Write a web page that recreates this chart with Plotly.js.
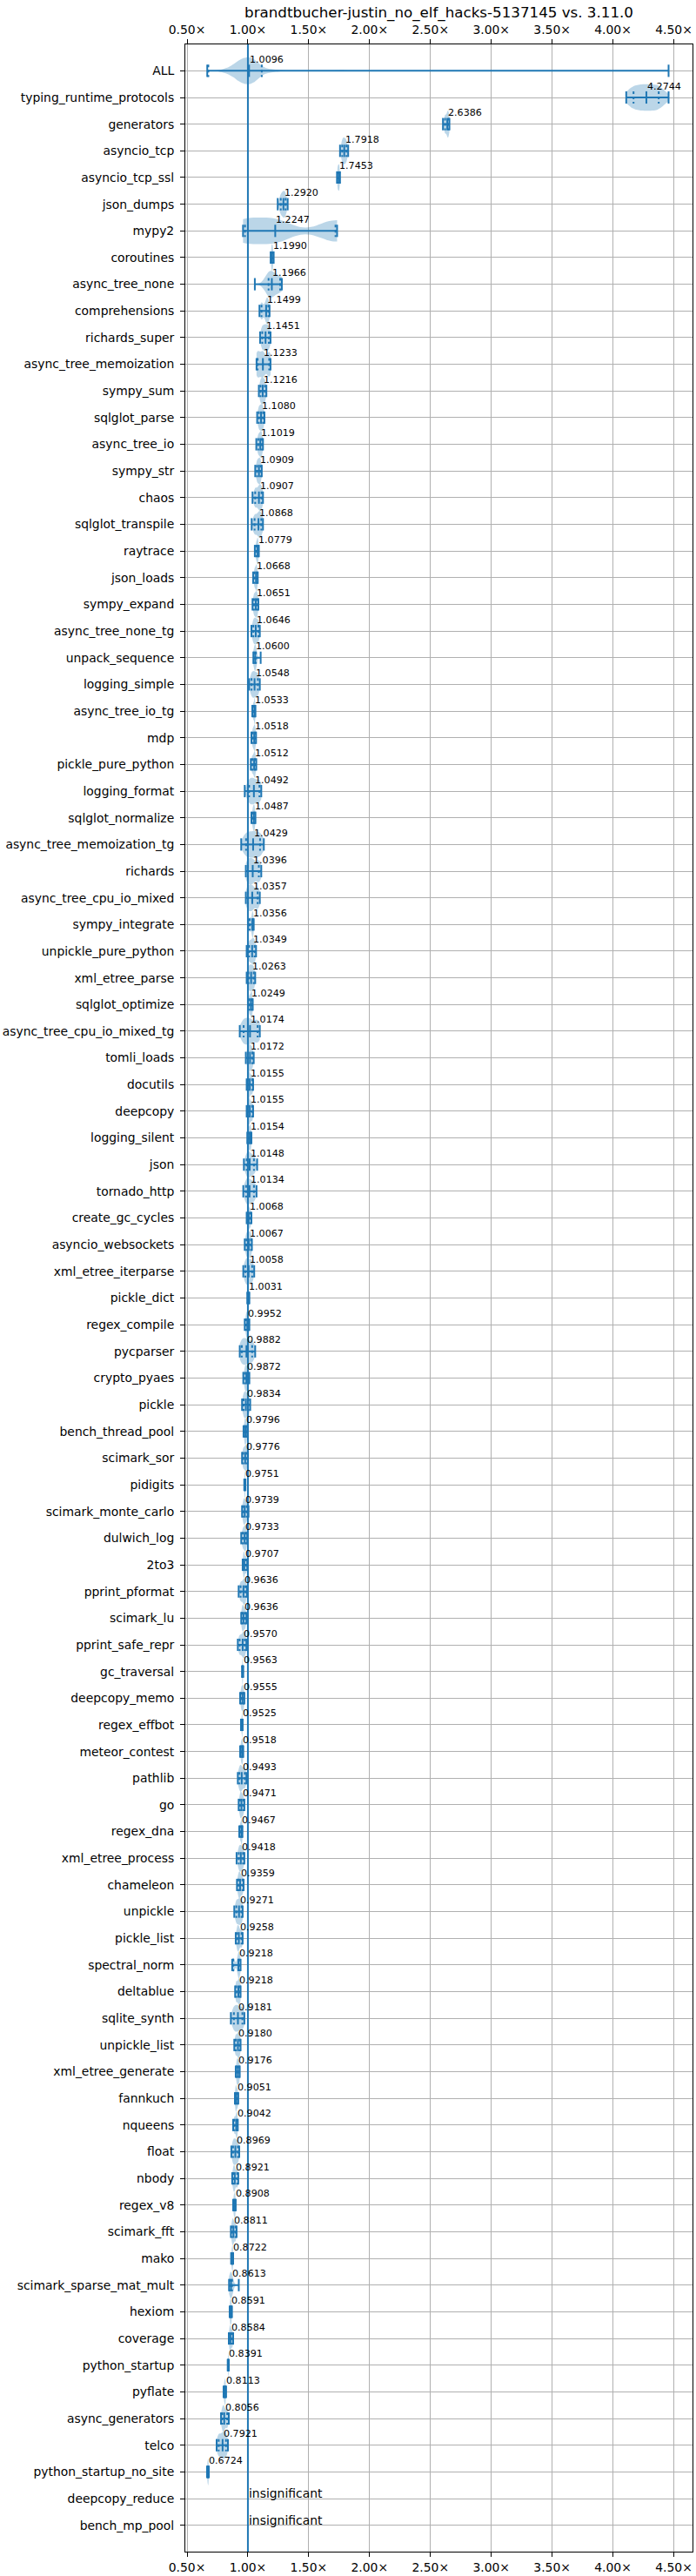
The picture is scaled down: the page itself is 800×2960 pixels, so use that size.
<!DOCTYPE html>
<html>
<head>
<meta charset="utf-8">
<script src="https://cdn.plot.ly/plotly-3.0.1.min.js"></script>
<style>html,body{margin:0;padding:0;background:#fff;}#chart{width:800px;height:2960px;}</style>
</head>
<body>
<div id="chart"></div>
<script>
const chartTitle = "brandtbucher-justin_no_elf_hacks-5137145 vs. 3.11.0";

const names = ["ALL","typing_runtime_protocols","generators","asyncio_tcp","asyncio_tcp_ssl","json_dumps","mypy2","coroutines","async_tree_none","comprehensions","richards_super","async_tree_memoization","sympy_sum","sqlglot_parse","async_tree_io","sympy_str","chaos","sqlglot_transpile","raytrace","json_loads","sympy_expand","async_tree_none_tg","unpack_sequence","logging_simple","async_tree_io_tg","mdp","pickle_pure_python","logging_format","sqlglot_normalize","async_tree_memoization_tg","richards","async_tree_cpu_io_mixed","sympy_integrate","unpickle_pure_python","xml_etree_parse","sqlglot_optimize","async_tree_cpu_io_mixed_tg","tomli_loads","docutils","deepcopy","logging_silent","json","tornado_http","create_gc_cycles","asyncio_websockets","xml_etree_iterparse","pickle_dict","regex_compile","pycparser","crypto_pyaes","pickle","bench_thread_pool","scimark_sor","pidigits","scimark_monte_carlo","dulwich_log","2to3","pprint_pformat","scimark_lu","pprint_safe_repr","gc_traversal","deepcopy_memo","regex_effbot","meteor_contest","pathlib","go","regex_dna","xml_etree_process","chameleon","unpickle","pickle_list","spectral_norm","deltablue","sqlite_synth","unpickle_list","xml_etree_generate","fannkuch","nqueens","float","nbody","regex_v8","scimark_fft","mako","scimark_sparse_mat_mult","hexiom","coverage","python_startup","pyflate","async_generators","telco","python_startup_no_site","deepcopy_reduce","bench_mp_pool"];

const medians = [1.0096,4.2744,2.6386,1.7918,1.7453,1.2920,1.2247,1.1990,1.1966,1.1499,1.1451,1.1233,1.1216,1.1080,1.1019,1.0909,1.0907,1.0868,1.0779,1.0668,1.0651,1.0646,1.0600,1.0548,1.0533,1.0518,1.0512,1.0492,1.0487,1.0429,1.0396,1.0357,1.0356,1.0349,1.0263,1.0249,1.0174,1.0172,1.0155,1.0155,1.0154,1.0148,1.0134,1.0068,1.0067,1.0058,1.0031,0.9952,0.9882,0.9872,0.9834,0.9796,0.9776,0.9751,0.9739,0.9733,0.9707,0.9636,0.9636,0.9570,0.9563,0.9555,0.9525,0.9518,0.9493,0.9471,0.9467,0.9418,0.9359,0.9271,0.9258,0.9218,0.9218,0.9181,0.9180,0.9176,0.9051,0.9042,0.8969,0.8921,0.8908,0.8811,0.8722,0.8613,0.8591,0.8584,0.8391,0.8113,0.8056,0.7921,0.6724,1.0000,1.0000];

const mins = [0.666,4.109,2.603,1.757,1.732,1.245,0.960,1.187,1.057,1.095,1.100,1.071,1.090,1.076,1.069,1.060,1.038,1.031,1.057,1.043,1.038,1.029,1.045,1.010,1.036,1.029,1.024,0.974,1.029,0.945,0.983,0.983,1.002,0.990,0.990,1.002,0.933,0.983,0.990,0.990,0.995,0.967,0.962,0.990,0.974,0.962,0.995,0.974,0.933,0.962,0.952,0.964,0.952,0.970,0.952,0.945,0.957,0.924,0.945,0.917,0.952,0.936,0.943,0.936,0.917,0.924,0.929,0.907,0.910,0.888,0.900,0.871,0.895,0.860,0.888,0.900,0.893,0.879,0.864,0.871,0.879,0.860,0.862,0.845,0.850,0.843,0.834,0.800,0.779,0.743,0.664,0.995,0.995];

const q1s = [0.675,4.169,2.620,1.775,1.738,1.270,0.976,1.193,1.170,1.112,1.118,1.080,1.104,1.090,1.085,1.075,1.060,1.055,1.068,1.055,1.050,1.045,1.050,1.030,1.044,1.040,1.036,1.010,1.040,0.985,1.000,1.000,1.015,1.010,1.005,1.012,0.965,1.000,1.002,1.002,1.005,0.990,0.985,0.998,0.988,0.980,0.999,0.985,0.950,0.975,0.965,0.972,0.962,0.972,0.962,0.958,0.963,0.940,0.952,0.932,0.954,0.945,0.948,0.944,0.930,0.935,0.938,0.925,0.922,0.905,0.912,0.880,0.905,0.885,0.900,0.908,0.898,0.890,0.878,0.880,0.884,0.870,0.867,0.850,0.854,0.850,0.836,0.805,0.790,0.760,0.668,0.998,0.998];

const q3s = [1.114,4.376,2.650,1.810,1.752,1.310,1.720,1.205,1.265,1.168,1.172,1.175,1.140,1.125,1.115,1.105,1.112,1.110,1.084,1.075,1.078,1.086,1.066,1.082,1.058,1.060,1.060,1.095,1.056,1.100,1.090,1.080,1.042,1.055,1.048,1.034,1.080,1.036,1.035,1.035,1.024,1.050,1.050,1.020,1.025,1.035,1.008,1.005,1.035,1.002,1.005,0.988,0.990,0.978,0.990,0.985,0.985,0.980,0.978,0.975,0.959,0.965,0.954,0.958,0.975,0.962,0.952,0.960,0.955,0.948,0.948,0.930,0.935,0.955,0.932,0.928,0.915,0.912,0.918,0.912,0.896,0.898,0.876,0.870,0.865,0.872,0.841,0.816,0.830,0.820,0.676,1.002,1.002];

const maxs = [4.457,4.457,2.656,1.824,1.757,1.327,1.733,1.212,1.279,1.178,1.186,1.186,1.152,1.136,1.124,1.114,1.124,1.124,1.090,1.081,1.086,1.098,1.105,1.098,1.062,1.067,1.069,1.110,1.062,1.131,1.110,1.098,1.048,1.067,1.060,1.040,1.098,1.048,1.043,1.043,1.029,1.076,1.071,1.029,1.033,1.052,1.012,1.012,1.060,1.012,1.019,0.995,1.000,0.980,1.005,0.995,0.995,0.993,0.988,0.988,0.962,0.971,0.957,0.962,0.988,0.971,0.955,0.971,0.965,0.957,0.957,0.940,0.940,0.971,0.940,0.933,0.921,0.917,0.929,0.921,0.900,0.907,0.879,0.925,0.869,0.879,0.843,0.821,0.843,0.836,0.679,1.005,1.005];

const insignificant = ["deepcopy_reduce","bench_mp_pool"];
const insignificantText = "insignificant";

const xTickVals = [0.5,1.0,1.5,2.0,2.5,3.0,3.5,4.0,4.5];
const xTickText = ["0.50×","1.00×","1.50×","2.00×","2.50×","3.00×","3.50×","4.00×","4.50×"];
const BASELINE = 1.0;

const C0 = "#1f77b4";
const FILL = "rgba(31,119,180,0.3)";
const FONT = "DejaVu Sans, Liberation Sans, sans-serif";
const CAP = 0.23;
const BW_FRACTION = 1 / 6;   // kernel bandwidth as a fraction of each violin's span

const isSig = names.map(n => insignificant.indexOf(n) < 0);
const idx = names.map((_, i) => i);

const traces = [];
// violin bodies: density from the read quartiles / medians, spanning min..max
names.forEach((n, i) => {
  const v = {
    type: "violin", orientation: "h", y0: i, name: n,
    width: 1.0, scalemode: "width", spanmode: "manual", span: [mins[i], maxs[i]],
    fillcolor: FILL, line: {width: 0, color: FILL},
    points: false, box: {visible: false}, meanline: {visible: false},
    hoverinfo: "skip", showlegend: false
  };
  if (i === 0) {
    v.x = medians.filter((m, j) => j > 0 && isSig[j]);
  } else {
    v.x = [q1s[i], medians[i], q3s[i]];
    v.bandwidth = (maxs[i] - mins[i]) * BW_FRACTION;
  }
  traces.push(v);
});

// bars, caps, medians, quantiles
const barX = [], barY = [], capX = [], capY = [], qX = [], qY = [];
names.forEach((n, i) => {
  if (!isSig[i]) return;
  barX.push(mins[i], maxs[i], null); barY.push(i, i, null);
  [mins[i], maxs[i], medians[i]].forEach(v => { capX.push(v, v, null); capY.push(i - CAP, i + CAP, null); });
  [q1s[i], q3s[i]].forEach(v => { qX.push(v, v, null); qY.push(i - CAP, i + CAP, null); });
});
traces.push({type: "scatter", mode: "lines", x: barX, y: barY, line: {color: C0, width: 2}, hoverinfo: "skip", showlegend: false});
traces.push({type: "scatter", mode: "lines", x: capX, y: capY, line: {color: C0, width: 2}, hoverinfo: "skip", showlegend: false});
traces.push({type: "scatter", mode: "lines", x: qX, y: qY, line: {color: C0, width: 2, dash: "dot"}, hoverinfo: "skip", showlegend: false});
// invisible point so the bottom tick axis is drawn
traces.push({type: "scatter", mode: "markers", x: [BASELINE], y: [0], xaxis: "x2", marker: {opacity: 0}, hoverinfo: "skip", showlegend: false});

const annotations = names.map((n, i) => isSig[i] ? {
  x: medians[i], y: i, xref: "x", yref: "y", text: medians[i].toFixed(4),
  showarrow: false, xanchor: "left", yanchor: "middle", yshift: 13, xshift: -1,
  font: {family: FONT, size: 11.1, color: "#000"}
} : {
  x: medians[i], y: i, xref: "x", yref: "y", text: insignificantText,
  showarrow: false, xanchor: "left", yanchor: "middle", yshift: 6, xshift: -1,
  font: {family: FONT, size: 13.9, color: "#000"}
});

const xRange = [0.4857, 4.6537];
const axisCommon = {
  range: xRange, tickvals: xTickVals, ticktext: xTickText,
  ticks: "outside", ticklen: 5, tickwidth: 1, tickcolor: "#000",
  tickfont: {family: FONT, size: 13.9, color: "#000"},
  zeroline: false
};

const layout = {
  width: 800, height: 2960,
  margin: {l: 213, r: 4, t: 51, b: 28, pad: 0},
  paper_bgcolor: "#fff", plot_bgcolor: "#fff",
  font: {family: FONT, color: "#000"},
  title: {text: chartTitle, font: {family: FONT, size: 16.7, color: "#000"}, x: 0.5, xref: "paper", xanchor: "center", y: 1 - 14 / 2960, yref: "container", yanchor: "middle"},
  violinmode: "overlay",
  showlegend: false,
  xaxis: Object.assign({}, axisCommon, {side: "top", anchor: "y", showgrid: true, gridcolor: "#b0b0b0", gridwidth: 1, showline: true, mirror: true, linecolor: "#000", linewidth: 1}),
  xaxis2: Object.assign({}, axisCommon, {side: "bottom", overlaying: "x", anchor: "y", showgrid: false, showline: false}),
  yaxis: {
    type: "linear", range: [92.99, -0.99], tickvals: idx, ticktext: names,
    ticks: "outside", ticklen: 5, tickwidth: 1, tickcolor: "#000",
    tickfont: {family: FONT, size: 13.9, color: "#000"}, ticklabelstandoff: 4,
    showgrid: true, gridcolor: "#b0b0b0", gridwidth: 1,
    showline: true, mirror: true, linecolor: "#000", linewidth: 1, zeroline: false
  },
  shapes: [{type: "line", xref: "x", yref: "paper", x0: BASELINE, x1: BASELINE, y0: 0, y1: 1, line: {color: C0, width: 2}, layer: "above"}],
  annotations: annotations
};

Plotly.newPlot("chart", traces, layout, {staticPlot: true, displayModeBar: false});
</script>
</body>
</html>
